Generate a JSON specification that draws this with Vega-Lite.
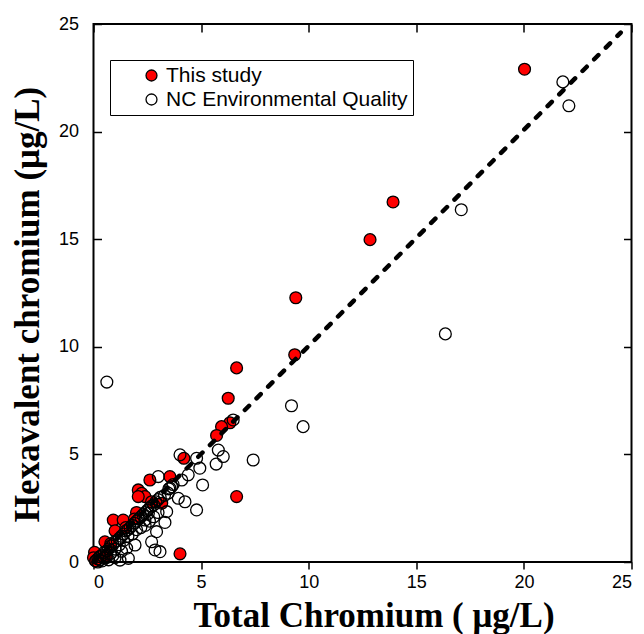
{
  "$schema": "https://vega.github.io/schema/vega-lite/v6.json",
  "width": 538,
  "height": 538,
  "autosize": {"type": "none"},
  "padding": {"left": 93.5, "top": 24, "right": 12.5, "bottom": 72},
  "datasets": {
    "points": [
      {"total": 20.03, "hex": 22.9, "source": "This study"},
      {"total": 13.92, "hex": 16.73, "source": "This study"},
      {"total": 12.85, "hex": 14.98, "source": "This study"},
      {"total": 9.4, "hex": 12.28, "source": "This study"},
      {"total": 9.35, "hex": 9.63, "source": "This study"},
      {"total": 6.65, "hex": 9.02, "source": "This study"},
      {"total": 6.26, "hex": 7.61, "source": "This study"},
      {"total": 6.34, "hex": 6.47, "source": "This study"},
      {"total": 5.95, "hex": 6.29, "source": "This study"},
      {"total": 5.72, "hex": 5.88, "source": "This study"},
      {"total": 6.65, "hex": 3.04, "source": "This study"},
      {"total": 4.2, "hex": 4.82, "source": "This study"},
      {"total": 4.02, "hex": 0.38, "source": "This study"},
      {"total": 3.55, "hex": 3.97, "source": "This study"},
      {"total": 2.62, "hex": 3.81, "source": "This study"},
      {"total": 2.08, "hex": 3.35, "source": "This study"},
      {"total": 2.24, "hex": 3.19, "source": "This study"},
      {"total": 2.39, "hex": 3.04, "source": "This study"},
      {"total": 2.08, "hex": 3.04, "source": "This study"},
      {"total": 3.17, "hex": 2.73, "source": "This study"},
      {"total": 2.0, "hex": 2.3, "source": "This study"},
      {"total": 0.92, "hex": 1.95, "source": "This study"},
      {"total": 1.38, "hex": 1.95, "source": "This study"},
      {"total": 1.0, "hex": 1.45, "source": "This study"},
      {"total": 0.53, "hex": 0.94, "source": "This study"},
      {"total": 0.8, "hex": 0.85, "source": "This study"},
      {"total": 1.5, "hex": 1.6, "source": "This study"},
      {"total": 1.9, "hex": 2.0, "source": "This study"},
      {"total": 2.7, "hex": 2.8, "source": "This study"},
      {"total": 0.05, "hex": 0.45, "source": "This study"},
      {"total": 0.0, "hex": 0.2, "source": "This study"},
      {"total": 0.1, "hex": 0.05, "source": "This study"},
      {"total": 0.3, "hex": 0.25, "source": "This study"},
      {"total": 0.6, "hex": 0.3, "source": "This study"},
      {"total": 21.81, "hex": 22.31, "source": "NC Environmental Quality"},
      {"total": 22.09, "hex": 21.2, "source": "NC Environmental Quality"},
      {"total": 17.09, "hex": 16.37, "source": "NC Environmental Quality"},
      {"total": 16.35, "hex": 10.6, "source": "NC Environmental Quality"},
      {"total": 9.2, "hex": 7.26, "source": "NC Environmental Quality"},
      {"total": 9.74, "hex": 6.29, "source": "NC Environmental Quality"},
      {"total": 7.42, "hex": 4.74, "source": "NC Environmental Quality"},
      {"total": 6.49, "hex": 6.6, "source": "NC Environmental Quality"},
      {"total": 0.62, "hex": 8.36, "source": "NC Environmental Quality"},
      {"total": 5.8, "hex": 5.2, "source": "NC Environmental Quality"},
      {"total": 6.03, "hex": 4.9, "source": "NC Environmental Quality"},
      {"total": 5.7, "hex": 4.55, "source": "NC Environmental Quality"},
      {"total": 5.07, "hex": 3.58, "source": "NC Environmental Quality"},
      {"total": 4.94, "hex": 4.36, "source": "NC Environmental Quality"},
      {"total": 4.79, "hex": 4.82, "source": "NC Environmental Quality"},
      {"total": 4.02, "hex": 4.98, "source": "NC Environmental Quality"},
      {"total": 4.79, "hex": 2.42, "source": "NC Environmental Quality"},
      {"total": 4.25, "hex": 2.8, "source": "NC Environmental Quality"},
      {"total": 4.4, "hex": 4.05, "source": "NC Environmental Quality"},
      {"total": 4.1, "hex": 3.81, "source": "NC Environmental Quality"},
      {"total": 3.63, "hex": 3.5, "source": "NC Environmental Quality"},
      {"total": 3.55, "hex": 3.43, "source": "NC Environmental Quality"},
      {"total": 3.47, "hex": 3.2, "source": "NC Environmental Quality"},
      {"total": 3.94, "hex": 2.96, "source": "NC Environmental Quality"},
      {"total": 3.01, "hex": 3.97, "source": "NC Environmental Quality"},
      {"total": 3.4, "hex": 2.34, "source": "NC Environmental Quality"},
      {"total": 3.32, "hex": 1.84, "source": "NC Environmental Quality"},
      {"total": 2.93, "hex": 1.41, "source": "NC Environmental Quality"},
      {"total": 2.7, "hex": 0.94, "source": "NC Environmental Quality"},
      {"total": 3.09, "hex": 0.48, "source": "NC Environmental Quality"},
      {"total": 2.86, "hex": 0.56, "source": "NC Environmental Quality"},
      {"total": 2.39, "hex": 1.95, "source": "NC Environmental Quality"},
      {"total": 2.55, "hex": 2.26, "source": "NC Environmental Quality"},
      {"total": 1.93, "hex": 0.79, "source": "NC Environmental Quality"},
      {"total": 1.62, "hex": 0.17, "source": "NC Environmental Quality"},
      {"total": 1.54, "hex": 0.64, "source": "NC Environmental Quality"},
      {"total": 1.23, "hex": 0.09, "source": "NC Environmental Quality"},
      {"total": 0.1, "hex": 0.05, "source": "NC Environmental Quality"},
      {"total": 0.2, "hex": 0.15, "source": "NC Environmental Quality"},
      {"total": 0.3, "hex": 0.25, "source": "NC Environmental Quality"},
      {"total": 0.4, "hex": 0.3, "source": "NC Environmental Quality"},
      {"total": 0.5, "hex": 0.45, "source": "NC Environmental Quality"},
      {"total": 0.6, "hex": 0.5, "source": "NC Environmental Quality"},
      {"total": 0.7, "hex": 0.6, "source": "NC Environmental Quality"},
      {"total": 0.8, "hex": 0.75, "source": "NC Environmental Quality"},
      {"total": 0.9, "hex": 0.8, "source": "NC Environmental Quality"},
      {"total": 1.0, "hex": 0.95, "source": "NC Environmental Quality"},
      {"total": 1.1, "hex": 1.0, "source": "NC Environmental Quality"},
      {"total": 1.2, "hex": 1.1, "source": "NC Environmental Quality"},
      {"total": 1.3, "hex": 1.2, "source": "NC Environmental Quality"},
      {"total": 1.4, "hex": 1.3, "source": "NC Environmental Quality"},
      {"total": 1.5, "hex": 1.45, "source": "NC Environmental Quality"},
      {"total": 1.6, "hex": 1.5, "source": "NC Environmental Quality"},
      {"total": 1.7, "hex": 1.6, "source": "NC Environmental Quality"},
      {"total": 1.8, "hex": 1.7, "source": "NC Environmental Quality"},
      {"total": 1.9, "hex": 1.8, "source": "NC Environmental Quality"},
      {"total": 2.0, "hex": 1.9, "source": "NC Environmental Quality"},
      {"total": 2.1, "hex": 2.0, "source": "NC Environmental Quality"},
      {"total": 2.2, "hex": 2.1, "source": "NC Environmental Quality"},
      {"total": 2.3, "hex": 2.2, "source": "NC Environmental Quality"},
      {"total": 2.4, "hex": 2.3, "source": "NC Environmental Quality"},
      {"total": 2.5, "hex": 2.4, "source": "NC Environmental Quality"},
      {"total": 2.6, "hex": 2.5, "source": "NC Environmental Quality"},
      {"total": 2.7, "hex": 2.6, "source": "NC Environmental Quality"},
      {"total": 2.8, "hex": 2.65, "source": "NC Environmental Quality"},
      {"total": 2.9, "hex": 2.8, "source": "NC Environmental Quality"},
      {"total": 3.0, "hex": 2.9, "source": "NC Environmental Quality"},
      {"total": 3.1, "hex": 3.0, "source": "NC Environmental Quality"},
      {"total": 3.3, "hex": 3.1, "source": "NC Environmental Quality"},
      {"total": 3.5, "hex": 3.4, "source": "NC Environmental Quality"},
      {"total": 3.7, "hex": 3.6, "source": "NC Environmental Quality"},
      {"total": 0.5, "hex": 0.2, "source": "NC Environmental Quality"},
      {"total": 0.8, "hex": 0.4, "source": "NC Environmental Quality"},
      {"total": 1.0, "hex": 0.6, "source": "NC Environmental Quality"},
      {"total": 1.2, "hex": 0.8, "source": "NC Environmental Quality"},
      {"total": 1.4, "hex": 1.0, "source": "NC Environmental Quality"},
      {"total": 1.6, "hex": 1.2, "source": "NC Environmental Quality"},
      {"total": 1.8, "hex": 1.3, "source": "NC Environmental Quality"},
      {"total": 2.0, "hex": 1.5, "source": "NC Environmental Quality"},
      {"total": 2.2, "hex": 1.6, "source": "NC Environmental Quality"},
      {"total": 2.4, "hex": 1.7, "source": "NC Environmental Quality"},
      {"total": 0.9, "hex": 0.3, "source": "NC Environmental Quality"},
      {"total": 1.3, "hex": 0.5, "source": "NC Environmental Quality"},
      {"total": 2.6, "hex": 1.9, "source": "NC Environmental Quality"},
      {"total": 2.8, "hex": 2.1, "source": "NC Environmental Quality"},
      {"total": 3.0, "hex": 2.3, "source": "NC Environmental Quality"},
      {"total": 0.3, "hex": 0.1, "source": "NC Environmental Quality"},
      {"total": 0.6, "hex": 0.2, "source": "NC Environmental Quality"},
      {"total": 0.2, "hex": 0.0, "source": "NC Environmental Quality"},
      {"total": 0.4, "hex": 0.05, "source": "NC Environmental Quality"},
      {"total": 0.7, "hex": 0.1, "source": "NC Environmental Quality"},
      {"total": 1.0, "hex": 0.2, "source": "NC Environmental Quality"}
    ],
    "fit": [
      {"total": 0, "hex": 0},
      {"total": 24.5, "hex": 24.6}
    ]
  },
  "layer": [
    {
      "data": {"name": "points"},
      "mark": {"type": "point", "filled": true, "stroke": "black", "strokeWidth": 1.3, "size": 140, "opacity": 1},
      "encoding": {
        "x": {"field": "total", "type": "quantitative", "scale": {"domain": [0, 25], "nice": false, "zero": false},
          "axis": {"orient": "bottom", "values": [0, 5, 10, 15, 20, 25],
            "tickSize": 7, "tickColor": "black", "tickWidth": 1.5, "domain": false,
            "labelPadding": 4, "title": "Total Chromium ( μg/L)", "titlePadding": 7, "titleX": 280}},
        "y": {"field": "hex", "type": "quantitative", "scale": {"domain": [0, 25], "nice": false, "zero": false},
          "axis": {"orient": "left", "values": [0, 5, 10, 15, 20, 25], "tickSize": -8, "tickColor": "black", "domain": false, "labelPadding": 23, "title": "Hexavalent chromium (μg/L)", "titlePadding": 13, "titleY": 280}},
        "fill": {"field": "source", "type": "nominal",
          "scale": {"domain": ["This study", "NC Environmental Quality"], "range": ["#ff0000", "transparent"]},
          "legend": {"orient": "none", "legendX": 16.5, "legendY": 36, "title": null, "strokeColor": "black", "fillColor": "white",
            "padding": 5, "symbolOffset": 26, "labelOffset": 4, "labelFontSize": 21, "labelFont": "Liberation Sans", "labelColor": "black",
            "labelLimit": 500,
            "symbolSize": 120, "symbolType": "circle", "symbolStrokeColor": "black", "symbolStrokeWidth": 1.3, "rowPadding": 2}}
      }
    },
    {
      "data": {"name": "fit"},
      "mark": {"type": "line", "color": "black", "strokeWidth": 4.5, "strokeDash": [6, 10.5], "strokeCap": "round"},
      "encoding": {
        "x": {"field": "total", "type": "quantitative", "scale": {"domain": [0, 25], "nice": false, "zero": false},
          "axis": {"orient": "top", "values": [0, 5, 10, 15, 20, 25], "tickSize": -8, "tickColor": "black", "tickWidth": 1.5, "domain": false,
            "labels": false, "title": null}},
        "y": {"field": "hex", "type": "quantitative", "scale": {"domain": [0, 25], "nice": false, "zero": false},
          "axis": {"orient": "right", "values": [0, 5, 10, 15, 20, 25], "tickSize": -8, "tickColor": "black", "domain": false, "labels": false, "title": null}}
      }
    }
  ],
  "resolve": {"axis": {"x": "independent", "y": "independent"}},
  "config": {
    "view": {"stroke": "black", "strokeWidth": 2},
    "axis": {"domainColor": "black", "domainWidth": 2, "tickColor": "black", "tickWidth": 1.5, "grid": false,
      "labelFont": "Liberation Sans", "labelFontSize": 18, "labelColor": "black",
      "titleFont": "Liberation Serif", "titleFontWeight": "bold", "titleFontSize": 35, "titleColor": "black"}
  }
}
